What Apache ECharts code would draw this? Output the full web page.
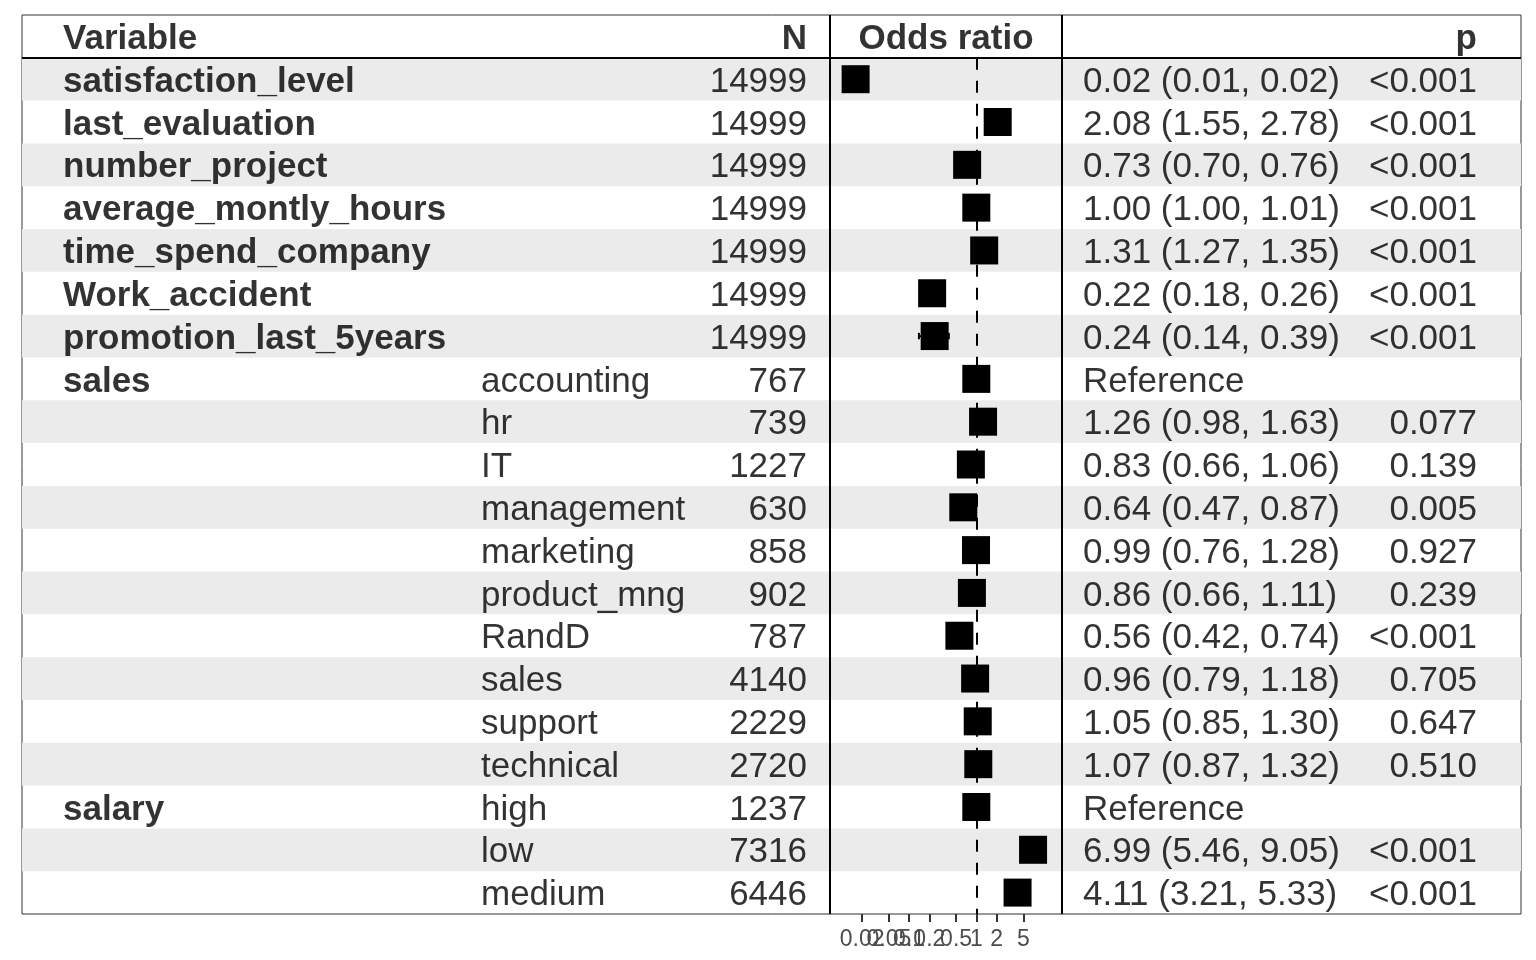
<!DOCTYPE html>
<html>
<head>
<meta charset="utf-8">
<script src="https://cdn.jsdelivr.net/npm/echarts@6/dist/echarts.min.js"></script>
<style>html,body{margin:0;padding:0;background:#fff}#chart{width:1536px;height:960px}</style>
</head>
<body>
<div id="chart"></div>
<script>
// ---- data ----
const headers = ['Variable', 'N', 'Odds ratio', 'p'];
const variables = ['satisfaction_level', 'last_evaluation', 'number_project', 'average_montly_hours',
  'time_spend_company', 'Work_accident', 'promotion_last_5years', 'sales', '', '', '', '', '', '', '', '', '',
  'salary', '', ''];
const levels = ['', '', '', '', '', '', '', 'accounting', 'hr', 'IT', 'management', 'marketing',
  'product_mng', 'RandD', 'sales', 'support', 'technical', 'high', 'low', 'medium'];
const nValues = [14999, 14999, 14999, 14999, 14999, 14999, 14999, 767, 739, 1227, 630, 858, 902, 787,
  4140, 2229, 2720, 1237, 7316, 6446];
const estimates = [0.016, 2.08, 0.73, 1.00, 1.31, 0.22, 0.24, 1, 1.26, 0.83, 0.64, 0.99, 0.86, 0.56,
  0.96, 1.05, 1.07, 1, 6.99, 4.11];
const ciLow = [0.013, 1.55, 0.70, 1.00, 1.27, 0.18, 0.14, null, 0.98, 0.66, 0.47, 0.76, 0.66, 0.42,
  0.79, 0.85, 0.87, null, 5.46, 3.21];
const ciHigh = [0.019, 2.78, 0.76, 1.01, 1.35, 0.26, 0.39, null, 1.63, 1.06, 0.87, 1.28, 1.11, 0.74,
  1.18, 1.30, 1.32, null, 9.05, 5.33];
const pValues = ['<0.001', '<0.001', '<0.001', '<0.001', '<0.001', '<0.001', '<0.001', '', '0.077',
  '0.139', '0.005', '0.927', '0.239', '<0.001', '0.705', '0.647', '0.510', '', '<0.001', '<0.001'];
const axisTicks = [0.02, 0.05, 0.1, 0.2, 0.5, 1, 2, 5];

// ---- derived ----
const estText = estimates.map((e, i) => ciLow[i] == null ? 'Reference'
  : e.toFixed(2) + ' (' + ciLow[i].toFixed(2) + ', ' + ciHigh[i].toFixed(2) + ')');
const FONT = '"Liberation Sans", Arial, Helvetica, sans-serif';
const FS = 35;
const TXT_OFFSET = [0, 3];
const tickLog = axisTicks.map(v => Math.log10(v));
// split tick labels across two identical axes so none are dropped as overlapping
const labelsA = tickLog.filter((_, i) => i % 2 === 0);
const labelsB = tickLog.filter((_, i) => i % 2 === 1);

function textSeries(x, texts, align, bold) {
  return {
    type: 'scatter', xAxisIndex: 0, yAxisIndex: 0, symbolSize: 0, silent: true, z: 5,
    animation: false,
    data: texts.map((t, i) => ({ value: [x, i], name: String(t) })).filter(d => d.name !== ''),
    label: {
      show: true, position: align === 'left' ? 'right' : 'left', distance: 0, formatter: '{b}',
      offset: TXT_OFFSET,
      color: '#000', fontSize: FS, fontFamily: FONT, fontWeight: bold ? 'bold' : 'normal'
    }
  };
}

function forestAxis(gridIndex, labelValues, showTicks) {
  return {
    gridIndex, type: 'value', min: -2.177, max: 1.275, position: 'bottom',
    axisLine: { show: false, onZero: false },
    splitLine: { show: false },
    axisTick: { show: showTicks, customValues: tickLog, length: 8, lineStyle: { color: '#333', width: 2 } },
    axisLabel: {
      show: true, customValues: labelValues, margin: 14,
      hideOverlap: false, showMinLabel: true, showMaxLabel: true,
      formatter: v => String(+Math.pow(10, v).toPrecision(3)),
      color: '#4D4D4D', fontSize: 23, fontFamily: FONT
    }
  };
}

const chart = echarts.init(document.getElementById('chart'), null, { renderer: 'canvas' });
const forestGrid = { left: 830, top: 57.8, width: 232, height: 856.2, show: false };
const option = {
  animation: false,
  backgroundColor: '#fff',
  grid: [
    { left: 22, top: 15, width: 1499, height: 899, show: true, borderColor: '#333', borderWidth: 1, backgroundColor: 'transparent' },
    forestGrid,
    Object.assign({}, forestGrid)
  ],
  xAxis: [
    { gridIndex: 0, type: 'value', min: 0, max: 1499, show: false },
    forestAxis(1, labelsA, true),
    forestAxis(2, labelsB, false)
  ],
  yAxis: [
    { gridIndex: 0, type: 'value', min: -1.5, max: 19.5, inverse: true, show: false },
    { gridIndex: 1, type: 'value', min: -0.5, max: 19.5, inverse: true, show: false },
    { gridIndex: 2, type: 'value', min: -0.5, max: 19.5, inverse: true, show: false }
  ],
  series: [
    // row shading
    {
      type: 'custom', xAxisIndex: 0, yAxisIndex: 0, z: 0, silent: true,
      data: variables.map((_, i) => i).filter(i => i % 2 === 0),
      renderItem: (params, api) => {
        const i = api.value(0);
        const p0 = api.coord([0, i - 0.5]);
        const p1 = api.coord([1499, i + 0.5]);
        return { type: 'rect', shape: { x: p0[0], y: p0[1], width: p1[0] - p0[0], height: p1[1] - p0[1] }, style: { fill: '#EBEBEB' } };
      }
    },
    // header texts and table lines
    {
      type: 'scatter', xAxisIndex: 0, yAxisIndex: 0, symbolSize: 0, silent: true, z: 6,
      data: [
        { value: [41, -1], name: headers[0], label: { position: 'right' } },
        { value: [785, -1], name: headers[1], label: { position: 'left' } },
        { value: [924, -1], name: headers[2], label: { position: 'inside' } },
        { value: [1455, -1], name: headers[3], label: { position: 'left' } }
      ],
      label: { show: true, distance: 0, offset: TXT_OFFSET, formatter: '{b}', color: '#000', fontSize: FS, fontFamily: FONT, fontWeight: 'bold' },
      markLine: {
        silent: true, symbol: 'none', label: { show: false },
        lineStyle: { color: '#000', width: 2, type: 'solid' },
        data: [{ yAxis: -0.5 }, { xAxis: 808 }, { xAxis: 1040 }]
      }
    },
    textSeries(41, variables, 'left', true),
    textSeries(459, levels, 'left', false),
    textSeries(785, nValues, 'right', false),
    textSeries(1061, estText, 'left', false),
    textSeries(1455, pValues, 'right', false),
    // dashed reference line + error bars
    {
      type: 'custom', xAxisIndex: 1, yAxisIndex: 1, z: 2, silent: true,
      data: estimates.map((e, i) => ciLow[i] == null ? null : [Math.log10(ciLow[i]), Math.log10(ciHigh[i]), i]).filter(d => d),
      renderItem: (params, api) => {
        const a = api.coord([api.value(0), api.value(2)]);
        const b = api.coord([api.value(1), api.value(2)]);
        const h = api.size([0, 0.15])[1] / 2;
        const st = { stroke: '#000', lineWidth: 2 };
        return {
          type: 'group', children: [
            { type: 'line', shape: { x1: a[0], y1: a[1], x2: b[0], y2: b[1] }, style: st },
            { type: 'line', shape: { x1: a[0], y1: a[1] - h, x2: a[0], y2: a[1] + h }, style: st },
            { type: 'line', shape: { x1: b[0], y1: b[1] - h, x2: b[0], y2: b[1] + h }, style: st }
          ]
        };
      },
      markLine: {
        silent: true, symbol: 'none', label: { show: false },
        lineStyle: { color: '#000', width: 2, type: [12, 11] },
        data: [{ xAxis: 0 }]
      }
    },
    // point estimates
    {
      type: 'scatter', xAxisIndex: 1, yAxisIndex: 1, z: 3, silent: true,
      symbol: 'rect', symbolSize: 28,
      itemStyle: { color: '#000', opacity: 1 },
      data: estimates.map((e, i) => [Math.log10(e), i])
    }
  ]
};
chart.setOption(option);
</script>
</body>
</html>
